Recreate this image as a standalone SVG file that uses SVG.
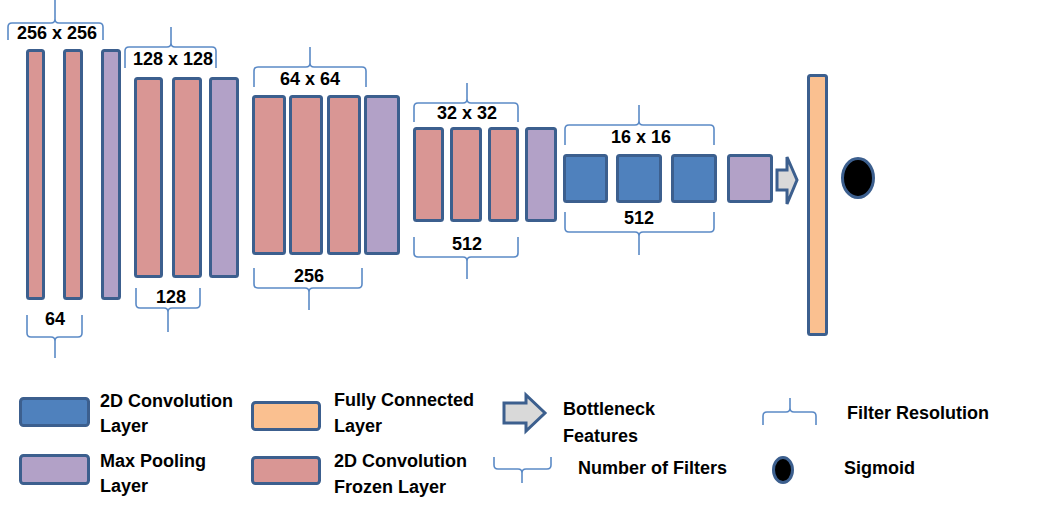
<svg xmlns="http://www.w3.org/2000/svg" width="1050" height="514" viewBox="0 0 1050 514">
<style>
.b{stroke:#3c5f8e;stroke-width:3}
.conv{fill:#4f81bd}
.frz{fill:#d99694}
.pool{fill:#b2a1c7}
.fc{fill:#fac090}
.br{fill:none;stroke:#5b8ac6;stroke-width:1.6}
text{font-family:"Liberation Sans",Arial,sans-serif;font-weight:bold;font-size:18px;fill:#000}
.m{text-anchor:middle}
</style>
<rect width="1050" height="514" fill="#fff"/>
<g id="layer1">
<rect class="b frz" x="27.5" y="50.5" width="16" height="248" rx="2"/>
<rect class="b frz" x="64.5" y="50.5" width="17" height="248" rx="2"/>
<rect class="b pool" x="102.5" y="50.5" width="17" height="248" rx="2"/>
<text class="m" x="57" y="39">256 x 256</text>
<text class="m" x="55" y="325">64</text>
</g>
<g id="layer2">
<rect class="b frz" x="135.5" y="78.5" width="26" height="198" rx="2"/>
<rect class="b frz" x="173.5" y="78.5" width="27" height="198" rx="2"/>
<rect class="b pool" x="210.5" y="78.5" width="27" height="198" rx="2"/>
<text class="m" x="173" y="65">128 x 128</text>
<text class="m" x="171" y="303">128</text>
</g>
<g id="layer3">
<rect class="b frz" x="253.5" y="96.5" width="31" height="157" rx="2"/>
<rect class="b frz" x="290.5" y="96.5" width="31" height="157" rx="2"/>
<rect class="b frz" x="328.5" y="96.5" width="31" height="157" rx="2"/>
<rect class="b pool" x="365.5" y="96.5" width="33" height="157" rx="2"/>
<text class="m" x="310" y="85">64 x 64</text>
<text class="m" x="309" y="282">256</text>
</g>
<g id="layer4">
<rect class="b frz" x="414.5" y="128.5" width="28" height="92" rx="2"/>
<rect class="b frz" x="451.5" y="128.5" width="29" height="92" rx="2"/>
<rect class="b frz" x="489.5" y="128.5" width="28" height="92" rx="2"/>
<rect class="b pool" x="526.5" y="128.5" width="29" height="92" rx="2"/>
<text class="m" x="467" y="119">32 x 32</text>
<text class="m" x="467" y="250">512</text>
</g>
<g id="layer5">
<rect class="b conv" x="564.5" y="155.5" width="42" height="46" rx="2"/>
<rect class="b conv" x="617.5" y="155.5" width="43" height="46" rx="2"/>
<rect class="b conv" x="672.5" y="155.5" width="43" height="46" rx="2"/>
<rect class="b pool" x="728.5" y="155.5" width="43" height="46" rx="2"/>
<text class="m" x="641" y="143">16 x 16</text>
<text class="m" x="639" y="224">512</text>
</g>
<g id="bottleneck">
<polygon class="b" fill="#d9d9d9" points="777,170 787,170 787,157 797,180 787,204 787,190 777,190"/>
</g>
<g id="fc">
<rect class="b fc" x="808.5" y="75.5" width="18" height="259" rx="2"/>
</g>
<g id="sigmoid">
<ellipse class="b" fill="#000" cx="858" cy="178" rx="15.5" ry="19.5"/>
</g>
<g id="braces">
<path class="br" d="M8,40 L8,27 Q8,23 12,23 L51,23 Q55,23 55,19 L55,0 M55,19 Q55,23 59,23 L99,23 Q103,23 103,27 L103,40"/>
<path class="br" d="M125,68 L125,51 Q125,47 129,47 L167,47 Q171,47 171,43 L171,27 M171,43 Q171,47 175,47 L212,47 Q216,47 216,51 L216,68"/>
<path class="br" d="M254,87 L254,71 Q254,67 258,67 L306,67 Q310,67 310,63 L310,47 M310,63 Q310,67 314,67 L362,67 Q366,67 366,71 L366,87"/>
<path class="br" d="M414,122 L414,107 Q414,103 418,103 L463,103 Q467,103 467,99 L467,83 M467,99 Q467,103 471,103 L514,103 Q518,103 518,107 L518,122"/>
<path class="br" d="M565,145 L565,129 Q565,125 569,125 L635,125 Q639,125 639,121 L639,105 M639,121 Q639,125 643,125 L710,125 Q714,125 714,129 L714,145"/>
<path class="br" d="M27,315 L27,333 Q27,337 31,337 L51,337 Q55,337 55,341 L55,358 M55,341 Q55,337 59,337 L78,337 Q82,337 82,333 L82,315"/>
<path class="br" d="M136,288 L136,304 Q136,308 140,308 L164,308 Q168,308 168,312 L168,332 M168,312 Q168,308 172,308 L196,308 Q200,308 200,304 L200,288"/>
<path class="br" d="M254,268 L254,284 Q254,288 258,288 L305,288 Q309,288 309,292 L309,310 M309,292 Q309,288 313,288 L358,288 Q362,288 362,284 L362,268"/>
<path class="br" d="M414,237 L414,253 Q414,257 418,257 L463,257 Q467,257 467,261 L467,279 M467,261 Q467,257 471,257 L514,257 Q518,257 518,253 L518,237"/>
<path class="br" d="M565,212 L565,228 Q565,232 569,232 L635,232 Q639,232 639,236 L639,255 M639,236 Q639,232 643,232 L710,232 Q714,232 714,228 L714,212"/>
</g>
<g id="legend">
<rect class="b conv" x="20.5" y="398.5" width="68" height="27" rx="3"/>
<text x="100" y="407">2D Convolution</text>
<text x="100" y="432">Layer</text>
<rect class="b pool" x="20.5" y="455.5" width="68" height="28" rx="3"/>
<text x="100" y="467">Max Pooling</text>
<text x="100" y="492">Layer</text>
<rect class="b fc" x="252.5" y="402.5" width="67" height="27" rx="3"/>
<text x="334" y="406">Fully Connected</text>
<text x="334" y="432">Layer</text>
<rect class="b frz" x="252.5" y="457.5" width="67" height="26" rx="3"/>
<text x="334" y="467">2D Convolution</text>
<text x="334" y="493">Frozen Layer</text>
<polygon class="b" fill="#d9d9d9" points="504,403 526,403 526,395 545,413 526,431 526,423 504,423"/>
<text x="563" y="415">Bottleneck</text>
<text x="563" y="442">Features</text>
<path class="br" d="M494,457 L494,465 Q494,469 498,469 L518,469 Q522,469 522,473 L522,483 M522,473 Q522,469 526,469 L547,469 Q551,469 551,465 L551,457"/>
<text x="578" y="474">Number of Filters</text>
<path class="br" d="M763,425 L763,416 Q763,412 767,412 L786,412 Q790,412 790,408 L790,398 M790,408 Q790,412 794,412 L812,412 Q816,412 816,416 L816,425"/>
<text x="847" y="419">Filter Resolution</text>
<ellipse class="b" fill="#000" cx="783" cy="470" rx="9.5" ry="12.5"/>
<text x="844" y="474">Sigmoid</text>
</g>
</svg>
